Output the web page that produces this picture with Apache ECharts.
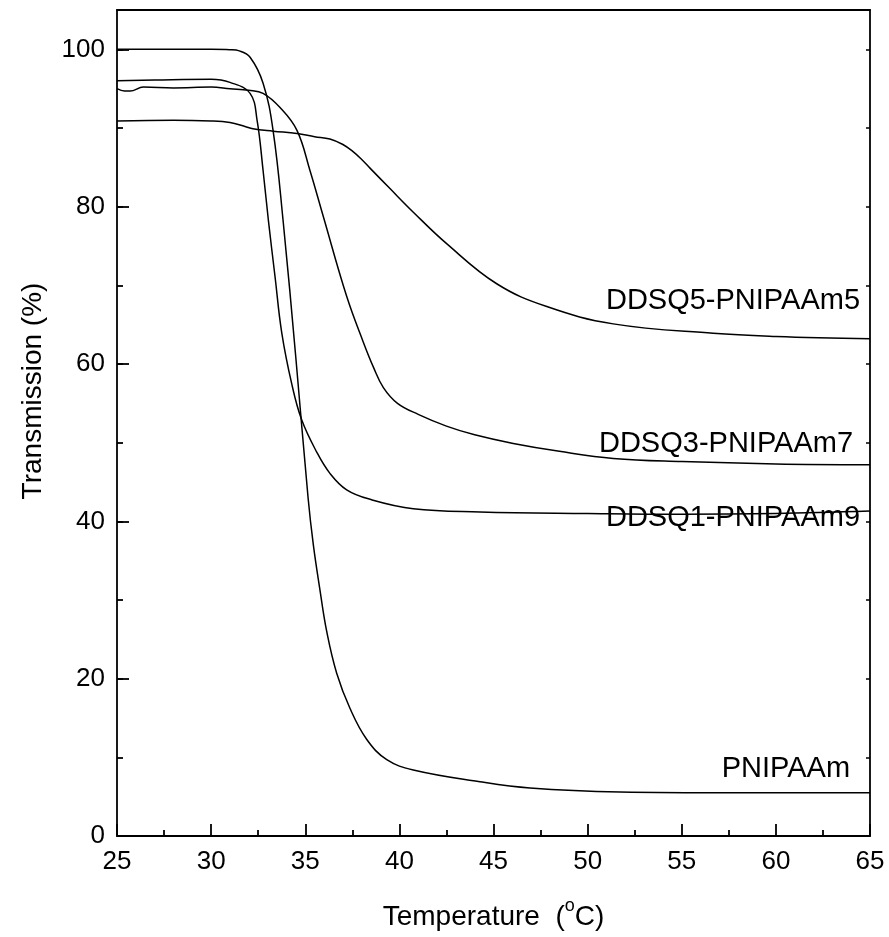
<!DOCTYPE html>
<html>
<head>
<meta charset="utf-8">
<script src="https://cdn.jsdelivr.net/npm/echarts@6/dist/echarts.min.js"></script>
<style>html,body{margin:0;padding:0;background:#fff}#c{width:889px;height:937px}</style>
</head>
<body>
<div id="c"></div>
<script>
// ---- data ----
var pnipaamT = [25, 28, 30, 31, 31.5, 32.07, 32.76, 33.29, 33.82, 34.5, 35.15, 35.43, 35.78, 36.14, 36.67, 37.38, 38.26, 39.33, 40.74, 44.28, 46.94, 51.72, 57.7, 65];
var pnipaamV = [100, 100, 100, 99.95, 99.8, 99.0, 95.7, 89.7, 78.3, 60.8, 43.0, 37.0, 31.3, 26.0, 20.7, 16.2, 12.3, 9.7, 8.4, 6.9, 6.1, 5.6, 5.5, 5.5];

var ddsq1T = [25, 27, 30, 31, 32.07, 32.44, 32.76, 33.04, 33.4, 33.75, 34.28, 34.81, 35.61, 36.31, 37.2, 38.44, 40.74, 44.28, 50, 55, 60, 65];
var ddsq1V = [96.0, 96.1, 96.2, 95.8, 94.4, 91.0, 84.6, 78.3, 71.0, 64.0, 57.5, 52.9, 48.8, 46.1, 44.0, 42.8, 41.6, 41.2, 41.0, 40.9, 41.0, 41.3];

var ddsq3T = [25, 25.4, 25.7, 26.4, 28, 30, 31, 32, 32.76, 33.66, 34.56, 35.25, 35.94, 37.2, 38.08, 38.62, 39.15, 39.9, 41.0, 42.5, 44.0, 46.05, 48.5, 51.36, 55, 60, 65];
var ddsq3V = [95.0, 94.7, 94.7, 95.2, 95.1, 95.2, 95.0, 94.8, 94.4, 92.6, 89.7, 84.6, 78.9, 68.6, 62.8, 59.6, 57.0, 55.0, 53.6, 52.1, 51.0, 49.9, 48.9, 48.0, 47.6, 47.3, 47.2];

var ddsq5T = [25, 28, 30, 31, 31.8, 32.22, 33.3, 34.56, 35.5, 36.31, 37.0, 37.54, 38.0, 38.44, 39.5, 40.74, 42.51, 45.17, 47.83, 51.36, 56.67, 60, 65];
var ddsq5V = [90.9, 91.0, 90.9, 90.7, 90.2, 89.9, 89.6, 89.3, 88.9, 88.6, 87.9, 87.0, 86.0, 84.9, 82.3, 79.3, 75.3, 70.2, 67.3, 65.1, 63.9, 63.5, 63.2];

var seriesNames = ['PNIPAAm', 'DDSQ1-PNIPAAm9', 'DDSQ3-PNIPAAm7', 'DDSQ5-PNIPAAm5'];
// label anchor points (right end of text, vertical centre) in data units
var labelX = [63.94, 64.47, 64.1, 64.47];
var labelY = [8.5, 40.4, 49.8, 68.0];

var xTicks = [25, 30, 35, 40, 45, 50, 55, 60, 65];
var yTicks = [0, 20, 40, 60, 80, 100];

// ---- build ----
function pairs(t, v) { var out = []; for (var i = 0; i < t.length; i++) out.push([t[i], v[i]]); return out; }
var allT = [pnipaamT, ddsq1T, ddsq3T, ddsq5T];
var allV = [pnipaamV, ddsq1V, ddsq3V, ddsq5V];

var FONT = 'Liberation Sans, Arial, sans-serif';
var series = seriesNames.map(function (n, i) {
  return {
    type: 'line', name: n, data: pairs(allT[i], allV[i]),
    showSymbol: false, smooth: 0.4,
    lineStyle: { color: '#000', width: 1.5 },
    markPoint: {
      symbol: 'circle', symbolSize: 0, silent: true,
      data: [{ coord: [labelX[i], labelY[i]], value: n }],
      label: { show: true, position: 'left', distance: 0, formatter: n, color: '#000', fontSize: 29, fontFamily: FONT }
    }
  };
});

var chart = echarts.init(document.getElementById('c'), null, { renderer: 'canvas' });
chart.setOption({
  animation: false,
  backgroundColor: '#fff',
  grid: { left: 117, right: 19, top: 10, bottom: 101, containLabel: false },
  xAxis: [{
    type: 'value', position: 'bottom', min: xTicks[0], max: xTicks[xTicks.length - 1], interval: 5,
    axisLine: { show: true, onZero: false, lineStyle: { color: '#000', width: 1.8 } },
    axisTick: { show: true, inside: true, length: 12, lineStyle: { color: '#000', width: 1.8 } },
    minorTick: { show: true, splitNumber: 2, length: 6, lineStyle: { color: '#000', width: 1.8 } },
    splitLine: { show: false },
    axisLabel: { color: '#000', fontSize: 26, fontFamily: FONT, margin: 13 },
    name: '{n|Temperature  (}{s|o}{n|C)}', nameLocation: 'middle', nameGap: 61,
    nameTextStyle: {
      color: '#000', fontSize: 28, fontFamily: FONT,
      rich: {
        n: { fontSize: 28, fontFamily: FONT, color: '#000', verticalAlign: 'bottom', lineHeight: 34 },
        s: { fontSize: 18, fontFamily: FONT, color: '#000', verticalAlign: 'top', lineHeight: 18 }
      }
    }
  }, {
    type: 'value', position: 'top', min: 25, max: 65,
    axisLine: { show: true, onZero: false, lineStyle: { color: '#000', width: 1.8 } },
    axisTick: { show: false }, axisLabel: { show: false }, splitLine: { show: false }
  }],
  yAxis: [{
    type: 'value', position: 'left', min: 0, max: 105, interval: 20,
    axisLine: { show: true, onZero: false, lineStyle: { color: '#000', width: 1.8 } },
    axisTick: { show: true, inside: true, length: 12, lineStyle: { color: '#000', width: 1.8 } },
    splitLine: { show: false },
    axisLabel: { color: '#000', fontSize: 26, fontFamily: FONT, margin: 12, showMaxLabel: false,
      formatter: function (v) { return yTicks.indexOf(v) >= 0 ? String(v) : ''; } },
    name: 'Transmission (%)', nameLocation: 'middle', nameGap: 70, nameRotate: 90,
    nameTextStyle: { color: '#000', fontSize: 28, fontFamily: FONT, padding: [0, 0, 0, 64] }
  }, {
    type: 'value', position: 'left', min: 0, max: 105, interval: 10,
    axisLine: { show: false },
    axisTick: { show: true, inside: true, length: 6, lineStyle: { color: '#000', width: 1.8 } },
    axisLabel: { show: false }, splitLine: { show: false }
  }, {
    type: 'value', position: 'right', min: 0, max: 105, interval: 10,
    axisLine: { show: true, onZero: false, lineStyle: { color: '#000', width: 1.8 } },
    axisTick: { show: true, inside: true, length: 4, lineStyle: { color: '#000', width: 1.5 } },
    axisLabel: { show: false }, splitLine: { show: false }
  }],
  series: series
});
</script>
</body>
</html>
